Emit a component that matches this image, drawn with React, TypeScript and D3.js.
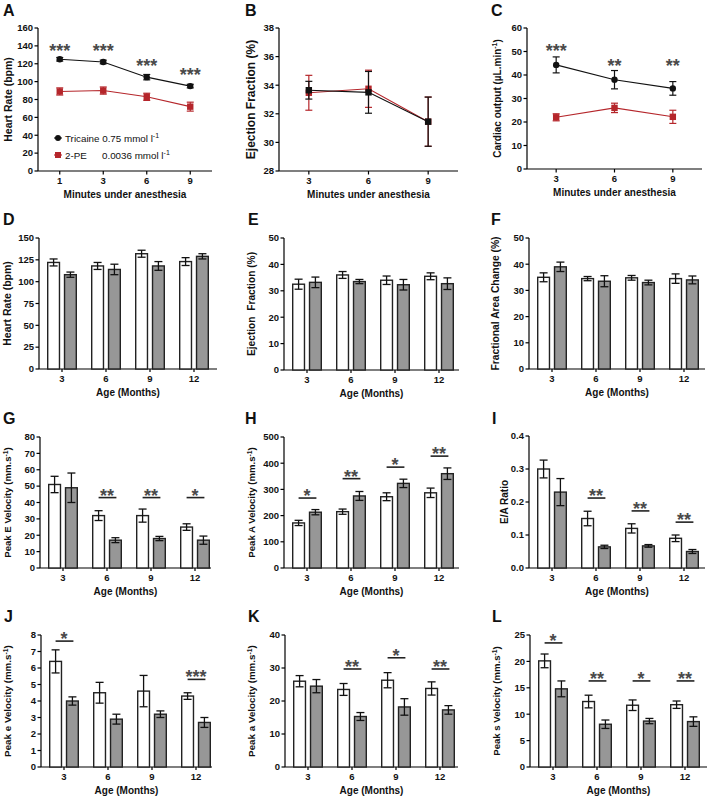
import React from "react";
import * as d3 from "d3";

const FONT = "'Liberation Sans', Arial, Helvetica, sans-serif";
const LETTER_FONT = "'Liberation Sans', Arial, sans-serif";
const RED = "#b5262b";
const GRAY_FILL = "#979797";
const STAR_COLOR = "#4a4a4a";

// ---------- Panel A: heart rate vs minutes ----------
const minutesA = ["1", "3", "6", "9"];
const hrTricaine = [125, 122, 105, 95];
const hrTricaineErr = [2, 2, 3, 2];
const hrPE = [89, 90, 83, 72];
const hrPEErr = [4, 4, 4, 5];
const hrStars = ["***", "***", "***", "***"];
const hrStarLevel = [139, 139, 122, 112];
const hrTicks = [0, 20, 40, 60, 80, 100, 120, 140, 160];

// ---------- Panel B: ejection fraction vs minutes ----------
const minutesB = ["3", "6", "9"];
const efTricaine = [33.65, 33.5, 31.45];
const efTricaineErr = [0.62, 1.46, 1.72];
const efPE = [33.47, 33.75, 31.45];
const efPEErr = [1.22, 1.3, 1.72];
const efTicks = [28, 30, 32, 34, 36, 38];

// ---------- Panel C: cardiac output vs minutes ----------
const minutesC = ["3", "6", "9"];
const coTricaine = [44.3, 38, 34.3];
const coTricaineErr = [3.4, 3.9, 2.9];
const coPE = [22, 26, 22.2];
const coPEErr = [1.5, 2, 2.8];
const coStars = ["***", "**", "**"];
const coStarLevel = [52, 45.5, 45.5];
const coTicks = [0, 10, 20, 30, 40, 50, 60];

// ---------- Age groups (D-L) ----------
const ages = ["3", "6", "9", "12"];

// D heart rate
const dWhite = [122, 118, 132, 123];
const dWhiteErr = [4, 4, 4, 4.5];
const dGray = [108, 114, 118, 129];
const dGrayErr = [3, 6, 5, 3];
const dTicks = [0, 25, 50, 75, 100, 125, 150];

// E ejection fraction
const eWhite = [32.5, 36, 34, 35.5];
const eWhiteErr = [1.9, 1.3, 1.6, 1.3];
const eGray = [33.2, 33.5, 32.3, 32.7];
const eGrayErr = [2, 0.8, 2, 2.2];
const eTicks = [0, 10, 20, 30, 40, 50];

// F fractional area change
const fWhite = [35, 34.5, 34.8, 34.5];
const fWhiteErr = [1.7, 0.8, 0.9, 1.8];
const fGray = [39, 33.5, 33, 34];
const fGrayErr = [1.8, 2.1, 0.9, 1.5];
const fTicks = [0, 10, 20, 30, 40, 50];

// G peak E velocity
const gWhite = [51, 32, 32, 25];
const gWhiteErr = [5, 3, 4, 2];
const gGray = [49, 17, 18, 17];
const gGrayErr = [9, 1.5, 1.3, 2.5];
const gSig = ["", "**", "**", "*"];
const gSigLevel = [0, 43, 43, 43];
const gTicks = [0, 10, 20, 30, 40, 50, 60, 70, 80];

// H peak A velocity
const hWhite = [172, 215, 272, 287];
const hWhiteErr = [10, 10, 15, 18];
const hGray = [213, 275, 323, 360];
const hGrayErr = [10, 17, 16, 22];
const hSig = ["*", "**", "*", "**"];
const hSigLevel = [267, 341, 385, 427];
const hTicks = [0, 100, 200, 300, 400, 500];

// I E/A ratio
const iWhite = [0.3, 0.15, 0.12, 0.09];
const iWhiteErr = [0.027, 0.022, 0.014, 0.01];
const iGray = [0.23, 0.064, 0.067, 0.05];
const iGrayErr = [0.041, 0.005, 0.004, 0.006];
const iSig = ["", "**", "**", "**"];
const iSigLevel = [0, 0.212, 0.173, 0.139];
const iTicks = [0, 0.1, 0.2, 0.3, 0.4];

// J peak e' velocity
const jWhite = [6.4, 4.5, 4.6, 4.3];
const jWhiteErr = [0.7, 0.63, 0.95, 0.2];
const jGray = [4.0, 2.9, 3.2, 2.7];
const jGrayErr = [0.25, 0.3, 0.2, 0.3];
const jSig = ["*", "", "", "***"];
const jSigLevel = [7.63, 0, 0, 5.31];
const jTicks = [0, 1, 2, 3, 4, 5, 6, 7, 8];

// K peak a' velocity
const kWhite = [26, 23.5, 26.3, 23.8];
const kWhiteErr = [1.7, 1.8, 2.3, 2];
const kGray = [24.5, 15.3, 18.2, 17.3];
const kGrayErr = [2, 1.2, 2.5, 1.3];
const kSig = ["", "**", "*", "**"];
const kSigLevel = [0, 29.7, 33.1, 29.7];
const kTicks = [0, 10, 20, 30, 40];

// L peak s' velocity
const lWhite = [20.1, 12.4, 11.7, 11.8];
const lWhiteErr = [1.3, 1.2, 1.0, 0.7];
const lGray = [14.8, 8.1, 8.7, 8.6];
const lGrayErr = [1.5, 0.8, 0.5, 0.9];
const lSig = ["*", "**", "*", "**"];
const lSigLevel = [23.5, 16.3, 16.3, 16.3];
const lTicks = [0, 5, 10, 15, 20, 25];

type Layout = {
  x0: number; x1: number; top: number; bottom: number;
  letter: string; lx: number; ly: number; ylx: number; yls: number;
};

const sup = (base: string, s: string, size: number) => (
  <>
    {base}
    <tspan dy={-size * 0.4} fontSize={size * 0.7}>{s}</tspan>
    <tspan dy={size * 0.4}>)</tspan>
  </>
);

function Frame({ L, yScale, yTicks, fmt, yLabel, xTitle, children }: any) {
  return (
    <g>
      <text x={L.lx} y={L.ly} fontFamily={LETTER_FONT} fontWeight={700} fontSize={16} fill="#111">{L.letter}</text>
      {/* y axis */}
      <line x1={L.x0} x2={L.x0} y1={L.top} y2={L.bottom} stroke="#000" strokeWidth={1.2} />
      {yTicks.map((t: number) => (
        <g key={t}>
          <line x1={L.x0 - 3.5} x2={L.x0} y1={yScale(t)} y2={yScale(t)} stroke="#000" strokeWidth={1.2} />
          <text x={L.x0 - 5} y={yScale(t)} dy="0.35em" textAnchor="end" fontFamily={FONT} fontWeight={700} fontSize={9.5} fill="#111">{fmt ? fmt(t) : t}</text>
        </g>
      ))}
      {/* x axis */}
      <line x1={L.x0} x2={L.x1} y1={L.bottom} y2={L.bottom} stroke="#000" strokeWidth={1.2} />
      <text
        transform={`translate(${L.ylx},${(L.top + L.bottom) / 2}) rotate(-90)`}
        textAnchor="middle" dy="0.35em" fontFamily={FONT} fontWeight={700} fontSize={L.yls} fill="#111"
      >{yLabel}</text>
      <text x={(L.x0 + L.x1) / 2} y={L.bottom + 27} textAnchor="middle" fontFamily={FONT} fontWeight={700} fontSize={10} fill="#111">{xTitle}</text>
      {children}
    </g>
  );
}

function LinePanel({ L, cats, series, stars, starLevels, yDomain, yTicks, yLabel }: any) {
  const x = d3.scalePoint<string>().domain(cats).range([L.x0, L.x1]).padding(0.5);
  const y = d3.scaleLinear().domain(yDomain).range([L.bottom, L.top]);
  const line = d3.line<number>().x((_, i) => x(cats[i])!).y((d) => y(d));
  return (
    <Frame L={L} yScale={y} yTicks={yTicks} yLabel={yLabel} xTitle="Minutes under anesthesia">
      {cats.map((c: string) => (
        <g key={c}>
          <line x1={x(c)} x2={x(c)} y1={L.bottom} y2={L.bottom + 3.5} stroke="#000" strokeWidth={1.2} />
          <text x={x(c)} y={L.bottom + 13} textAnchor="middle" fontFamily={FONT} fontWeight={700} fontSize={9.5} fill="#111">{c}</text>
        </g>
      ))}
      {series.map((s: any, si: number) => (
        <g key={si}>
          {s.values.map((v: number, i: number) => {
            const cx = x(cats[i])!;
            const y1 = y(v + s.errs[i]);
            const y2 = y(v - s.errs[i]);
            return (
              <g key={i} stroke={s.color} strokeWidth={1.2}>
                <line x1={cx} x2={cx} y1={y1} y2={y2} />
                <line x1={cx - 3.5} x2={cx + 3.5} y1={y1} y2={y1} />
                <line x1={cx - 3.5} x2={cx + 3.5} y1={y2} y2={y2} />
              </g>
            );
          })}
          <path d={line(s.values)!} fill="none" stroke={s.color} strokeWidth={1.1} />
          {s.values.map((v: number, i: number) => {
            const cx = x(cats[i])!;
            const cy = y(v);
            return s.marker === "circle" ? (
              <circle key={i} cx={cx} cy={cy} r={3.2} fill={s.color} />
            ) : (
              <rect key={i} x={cx - 3.2} y={cy - 3.2} width={6.4} height={6.4} fill={s.color} />
            );
          })}
        </g>
      ))}
      {stars && stars.map((st: string, i: number) => (
        <text key={i} x={x(cats[i])} y={y(starLevels[i]) + 10} textAnchor="middle" fontFamily={FONT} fontWeight={700} fontSize={18} fill={STAR_COLOR}>{st}</text>
      ))}
    </Frame>
  );
}

function BarPanel({ L, white, whiteErr, gray, grayErr, sig, sigLevel, yTicks, fmt, yLabel }: any) {
  const yMax = yTicks[yTicks.length - 1];
  const x = d3.scaleBand<string>().domain(ages).range([L.x0 + 1, L.x0 + 177]).paddingInner(0.35).paddingOuter(0.175);
  const sub = d3.scaleBand<string>().domain(["white", "gray"]).range([0, x.bandwidth()]).paddingInner(0.3);
  const y = d3.scaleLinear().domain([0, yMax]).range([L.bottom, L.top]);
  const groups = [
    { key: "white", vals: white, errs: whiteErr, fill: "#ffffff" },
    { key: "gray", vals: gray, errs: grayErr, fill: GRAY_FILL },
  ];
  return (
    <Frame L={L} yScale={y} yTicks={yTicks} fmt={fmt} yLabel={yLabel} xTitle="Age (Months)">
      {ages.map((a) => {
        const cx = x(a)! + x.bandwidth() / 2;
        return (
          <g key={a}>
            <line x1={cx} x2={cx} y1={L.bottom} y2={L.bottom + 3} stroke="#000" strokeWidth={1.2} />
            <text x={cx} y={L.bottom + 13} textAnchor="middle" fontFamily={FONT} fontWeight={700} fontSize={9.5} fill="#111">{a}</text>
          </g>
        );
      })}
      {groups.map((g) =>
        ages.map((a, i) => {
          const bx = x(a)! + sub(g.key)!;
          const bw = sub.bandwidth();
          const cx = bx + bw / 2;
          const v = g.vals[i];
          const e = g.errs[i];
          return (
            <g key={g.key + a}>
              <rect x={bx} y={y(v)} width={bw} height={L.bottom - y(v)} fill={g.fill} stroke="#222" strokeWidth={1.4} />
              <g stroke="#111" strokeWidth={1.3}>
                <line x1={cx} x2={cx} y1={y(v + e)} y2={y(v - e)} />
                <line x1={cx - 4} x2={cx + 4} y1={y(v + e)} y2={y(v + e)} />
                <line x1={cx - 4} x2={cx + 4} y1={y(v - e)} y2={y(v - e)} />
              </g>
            </g>
          );
        })
      )}
      {sig.map((s: string, i: number) => {
        if (!s) return null;
        const a = ages[i];
        const xa = x(a)! + sub("white")! + sub.bandwidth() / 2;
        const xb = x(a)! + sub("gray")! + sub.bandwidth() / 2;
        const ly = y(sigLevel[i]);
        return (
          <g key={i}>
            <line x1={xa} x2={xb + 1} y1={ly} y2={ly} stroke="#222" strokeWidth={1.6} />
            <text x={(xa + xb) / 2} y={ly + 4} textAnchor="middle" fontFamily={FONT} fontWeight={700} fontSize={18} fill={STAR_COLOR}>{s}</text>
          </g>
        );
      })}
    </Frame>
  );
}

const LA: Layout = { x0: 38, x1: 212, top: 28, bottom: 171, letter: "A", lx: 3, ly: 16, ylx: 8, yls: 10.5 };
const LB: Layout = { x0: 279, x1: 458, top: 28, bottom: 171, letter: "B", lx: 245, ly: 16, ylx: 251, yls: 12 };
const LC: Layout = { x0: 527, x1: 702, top: 28, bottom: 169, letter: "C", lx: 491, ly: 16, ylx: 497, yls: 10 };
const LD: Layout = { x0: 39, x1: 217, top: 238, bottom: 369, letter: "D", lx: 3, ly: 225, ylx: 7, yls: 10.5 };
const LE: Layout = { x0: 284, x1: 459, top: 238, bottom: 370, letter: "E", lx: 248, ly: 225, ylx: 251, yls: 10.2 };
const LF: Layout = { x0: 529, x1: 705, top: 238, bottom: 369, letter: "F", lx: 491, ly: 225, ylx: 495, yls: 10.3 };
const LG: Layout = { x0: 40, x1: 211, top: 437, bottom: 568, letter: "G", lx: 3, ly: 424, ylx: 8, yls: 9.6 };
const LH: Layout = { x0: 284, x1: 459, top: 437, bottom: 568, letter: "H", lx: 245, ly: 424, ylx: 252, yls: 9.6 };
const LI: Layout = { x0: 529, x1: 705, top: 436, bottom: 568, letter: "I", lx: 492, ly: 424, ylx: 504, yls: 10 };
const LJ: Layout = { x0: 41, x1: 212, top: 635, bottom: 767, letter: "J", lx: 4, ly: 622, ylx: 8, yls: 9.8 };
const LK: Layout = { x0: 285, x1: 458, top: 635, bottom: 767, letter: "K", lx: 248, ly: 622, ylx: 252, yls: 9.8 };
const LL: Layout = { x0: 530, x1: 707, top: 635, bottom: 767, letter: "L", lx: 492, ly: 622, ylx: 497, yls: 9.6 };

export default function App() {
  const vel = (name: string, s: number) => sup(`Peak ${name} Velocity (mm.s`, "-1", s);
  return (
    <svg width={708} height={797} style={{ position: "absolute", left: 0, top: 0, background: "#fff" }}>
      <rect width={708} height={797} fill="#fff" />
      <LinePanel
        L={LA} cats={minutesA} yDomain={[0, 160]} yTicks={hrTicks}
        series={[
          { values: hrPE, errs: hrPEErr, color: RED, marker: "square" },
          { values: hrTricaine, errs: hrTricaineErr, color: "#111", marker: "circle" },
        ]}
        stars={hrStars} starLevels={hrStarLevel} yLabel="Heart Rate (bpm)"
      />
      {/* legend A */}
      <g fontFamily={FONT} fontSize={9.8} fill="#111">
        <line x1={54} x2={62} y1={138} y2={138} stroke="#111" strokeWidth={1.1} />
        <circle cx={58} cy={138} r={3} fill="#111" />
        <text x={65} y={141.5}>Tricaine 0.75 mmol l<tspan dy={-4} fontSize={7}>-1</tspan></text>
        <line x1={54} x2={62} y1={155} y2={155} stroke={RED} strokeWidth={1.1} />
        <rect x={55} y={152} width={6} height={6} fill={RED} />
        <text x={65} y={158.5}>2-PE</text>
        <text x={102} y={158.5}>0.0036 mmol l<tspan dy={-4} fontSize={7}>-1</tspan></text>
      </g>
      <LinePanel
        L={LB} cats={minutesB} yDomain={[28, 38]} yTicks={efTicks}
        series={[
          { values: efPE, errs: efPEErr, color: RED, marker: "square" },
          { values: efTricaine, errs: efTricaineErr, color: "#111", marker: "square" },
        ]}
        yLabel="Ejection Fraction (%)"
      />
      <LinePanel
        L={LC} cats={minutesC} yDomain={[0, 60]} yTicks={coTicks}
        series={[
          { values: coPE, errs: coPEErr, color: RED, marker: "square" },
          { values: coTricaine, errs: coTricaineErr, color: "#111", marker: "circle" },
        ]}
        stars={coStars} starLevels={coStarLevel}
        yLabel={sup("Cardiac output (\u00B5L.min", "-1", 10)}
      />
      <BarPanel L={LD} white={dWhite} whiteErr={dWhiteErr} gray={dGray} grayErr={dGrayErr} sig={[]} sigLevel={[]} yTicks={dTicks} yLabel="Heart Rate (bpm)" />
      <BarPanel L={LE} white={eWhite} whiteErr={eWhiteErr} gray={eGray} grayErr={eGrayErr} sig={[]} sigLevel={[]} yTicks={eTicks} yLabel={"Ejection\u00A0 Fraction (%)"} />
      <BarPanel L={LF} white={fWhite} whiteErr={fWhiteErr} gray={fGray} grayErr={fGrayErr} sig={[]} sigLevel={[]} yTicks={fTicks} yLabel="Fractional Area Change (%)" />
      <BarPanel L={LG} white={gWhite} whiteErr={gWhiteErr} gray={gGray} grayErr={gGrayErr} sig={gSig} sigLevel={gSigLevel} yTicks={gTicks} yLabel={vel("E", 9.6)} />
      <BarPanel L={LH} white={hWhite} whiteErr={hWhiteErr} gray={hGray} grayErr={hGrayErr} sig={hSig} sigLevel={hSigLevel} yTicks={hTicks} yLabel={vel("A", 9.6)} />
      <BarPanel L={LI} white={iWhite} whiteErr={iWhiteErr} gray={iGray} grayErr={iGrayErr} sig={iSig} sigLevel={iSigLevel} yTicks={iTicks} fmt={d3.format(".1f")} yLabel="E/A Ratio" />
      <BarPanel L={LJ} white={jWhite} whiteErr={jWhiteErr} gray={jGray} grayErr={jGrayErr} sig={jSig} sigLevel={jSigLevel} yTicks={jTicks} yLabel={vel("e", 9.8)} />
      <BarPanel L={LK} white={kWhite} whiteErr={kWhiteErr} gray={kGray} grayErr={kGrayErr} sig={kSig} sigLevel={kSigLevel} yTicks={kTicks} yLabel={vel("a", 9.8)} />
      <BarPanel L={LL} white={lWhite} whiteErr={lWhiteErr} gray={lGray} grayErr={lGrayErr} sig={lSig} sigLevel={lSigLevel} yTicks={lTicks} yLabel={vel("s", 9.6)} />
    </svg>
  );
}
